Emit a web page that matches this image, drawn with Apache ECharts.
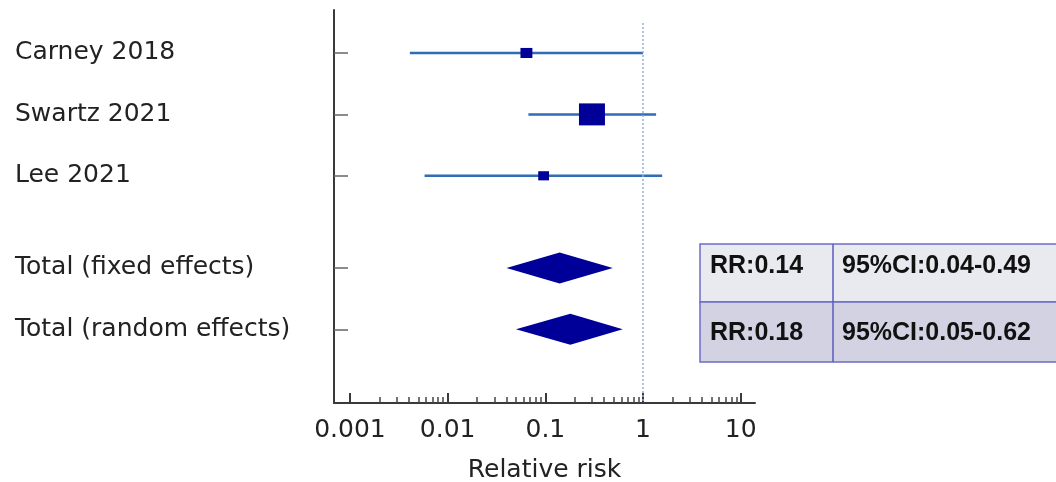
<!DOCTYPE html>
<html>
<head>
<meta charset="utf-8">
<title>forest plot</title>
<script src="https://cdn.jsdelivr.net/npm/echarts@6/dist/echarts.min.js"></script>
</head>
<body style="margin:0;background:#fff">
<div id="main" style="width:1056px;height:482px;"></div>
<script type="text/javascript">
// studies
var studies = ['Carney 2018', 'Swartz 2021', 'Lee 2021'];
var studyRR = [0.064, 0.30, 0.096];
var studyLo = [0.0041, 0.067, 0.0058];
var studyHi = [1.00, 1.36, 1.57];
var studyWeight = [15.2, 72.3, 12.5];

// pooled estimates
var pooled = ['Total (fixed effects)', 'Total (random effects)'];
var pooledRR = [0.14, 0.18];
var pooledLo = [0.04, 0.05];
var pooledHi = [0.49, 0.62];

// row positions on the y axis (gap before the totals)
var rowPos = [1, 2, 3, 4.5, 5.5];

var majorTicks = [0.001, 0.01, 0.1, 1, 10];
var tickLabels = ['0.001', '0.01', '0.1', '1', '10'];

var minorTicks = [];
for (var d = 0; d < majorTicks.length - 1; d++) {
    for (var m = 2; m <= 9; m++) {
        minorTicks.push(majorTicks[d] * m);
    }
}

var rowNames = studies.concat(pooled);
var maxW = Math.max.apply(null, studyWeight);
var axisColor = '#3a3a3a';

var myChart = echarts.init(document.getElementById('main'));

var option = {
    animation: false,
    grid: { left: 334, top: 10, width: 421, height: 393, outerBoundsMode: 'none', containLabel: false },
    xAxis: [
        {
            type: 'log',
            min: 0.000686,
            max: 14,
            position: 'bottom',
            name: 'Relative risk',
            nameLocation: 'middle',
            nameGap: 55,
            nameTextStyle: { fontSize: 25, fontFamily: 'DejaVu Sans', color: '#222' },
            axisLine: { show: true, onZero: false, lineStyle: { color: axisColor, width: 2 } },
            axisTick: { inside: true, length: 10, customValues: majorTicks, lineStyle: { color: axisColor, width: 2 } },
            axisLabel: {
                customValues: majorTicks,
                margin: 15,
                fontSize: 25,
                fontFamily: 'DejaVu Sans',
                color: '#222',
                formatter: function (v) {
                    for (var i = 0; i < majorTicks.length; i++) {
                        if (Math.abs(v - majorTicks[i]) < majorTicks[i] * 1e-6) return tickLabels[i];
                    }
                    return '';
                }
            },
            splitLine: { show: false }
        },
        {
            // minor ticks only
            type: 'log',
            min: 0.000686,
            max: 14,
            position: 'bottom',
            axisLine: { show: false, onZero: false },
            axisTick: { inside: true, length: 6, customValues: minorTicks, lineStyle: { color: '#444', width: 1.5 } },
            axisLabel: { show: false },
            splitLine: { show: false }
        }
    ],
    yAxis: {
        type: 'value',
        inverse: true,
        min: 0.3,
        max: 6.7,
        axisLine: { show: true, onZero: false, lineStyle: { color: axisColor, width: 2 } },
        axisTick: { inside: true, length: 14, customValues: rowPos, lineStyle: { color: '#666', width: 1.5 } },
        axisLabel: {
            customValues: rowPos,
            align: 'left',
            margin: 319,
            fontSize: 25,
            fontFamily: 'DejaVu Sans',
            color: '#222',
            padding: [4, 0, 0, 0],
            formatter: function (v) {
                var i = rowPos.indexOf(v);
                return i >= 0 ? rowNames[i] : '';
            }
        },
        splitLine: { show: false }
    },
    series: [
        {
            // confidence intervals
            type: 'custom',
            z: 2,
            renderItem: function (params, api) {
                var a = api.coord([api.value(0), api.value(2)]);
                var b = api.coord([api.value(1), api.value(2)]);
                return {
                    type: 'line',
                    shape: { x1: a[0], y1: a[1], x2: b[0], y2: b[1] },
                    style: { stroke: '#2f6db5', lineWidth: 2.5 }
                };
            },
            encode: { x: [0, 1], y: 2 },
            data: studies.map(function (s, i) { return [studyLo[i], studyHi[i], rowPos[i]]; })
        },
        {
            // study estimates, size from weight
            type: 'scatter',
            z: 3,
            symbol: 'rect',
            symbolSize: function (val) {
                var k = Math.sqrt(val[2] / maxW);
                return [26 * k, 22 * k];
            },
            itemStyle: { color: '#000099', opacity: 1 },
            data: studies.map(function (s, i) { return [studyRR[i], rowPos[i], studyWeight[i]]; }),
            markLine: {
                silent: true,
                symbol: 'none',
                label: { show: false },
                lineStyle: { color: '#8fb0e2', type: [2, 2], width: 1.5 },
                data: [[{ coord: [1, 0.51] }, { coord: [1, 6.7] }]]
            }
        },
        {
            // pooled diamonds
            type: 'custom',
            z: 3,
            renderItem: function (params, api) {
                var y = api.value(3);
                var l = api.coord([api.value(1), y]);
                var c = api.coord([api.value(0), y]);
                var r = api.coord([api.value(2), y]);
                var h = 15.5;
                return {
                    type: 'polygon',
                    shape: { points: [l, [c[0], c[1] - h], r, [c[0], c[1] + h]] },
                    style: { fill: '#000099' }
                };
            },
            encode: { x: [0, 1, 2], y: 3 },
            data: pooled.map(function (s, i) { return [pooledRR[i], pooledLo[i], pooledHi[i], rowPos[3 + i]]; })
        }
    ],
    graphic: [
        { type: 'rect', z: 10, shape: { x: 700, y: 244, width: 362, height: 58 }, style: { fill: '#e9e9f0', stroke: '#6c6cc8', lineWidth: 1.5 } },
        { type: 'rect', z: 10, shape: { x: 700, y: 302, width: 362, height: 60 }, style: { fill: '#d2d2e3', stroke: '#6c6cc8', lineWidth: 1.5 } },
        { type: 'line', z: 11, shape: { x1: 833, y1: 244, x2: 833, y2: 362 }, style: { stroke: '#5a5ac0', lineWidth: 1.5 } }
    ].concat(pooled.map(function (s, i) {
        return {
            type: 'text', z: 12, x: 710, y: i === 0 ? 266 : 333,
            style: { text: 'RR:' + pooledRR[i].toFixed(2), fill: '#111', fontSize: 25, fontWeight: 'bold', fontFamily: 'Liberation Sans', verticalAlign: 'middle' }
        };
    })).concat(pooled.map(function (s, i) {
        return {
            type: 'text', z: 12, x: 842, y: i === 0 ? 266 : 333,
            style: { text: '95%CI:' + pooledLo[i].toFixed(2) + '-' + pooledHi[i].toFixed(2), fill: '#111', fontSize: 25, fontWeight: 'bold', fontFamily: 'Liberation Sans', verticalAlign: 'middle' }
        };
    }))
};

myChart.setOption(option);
</script>
</body>
</html>
